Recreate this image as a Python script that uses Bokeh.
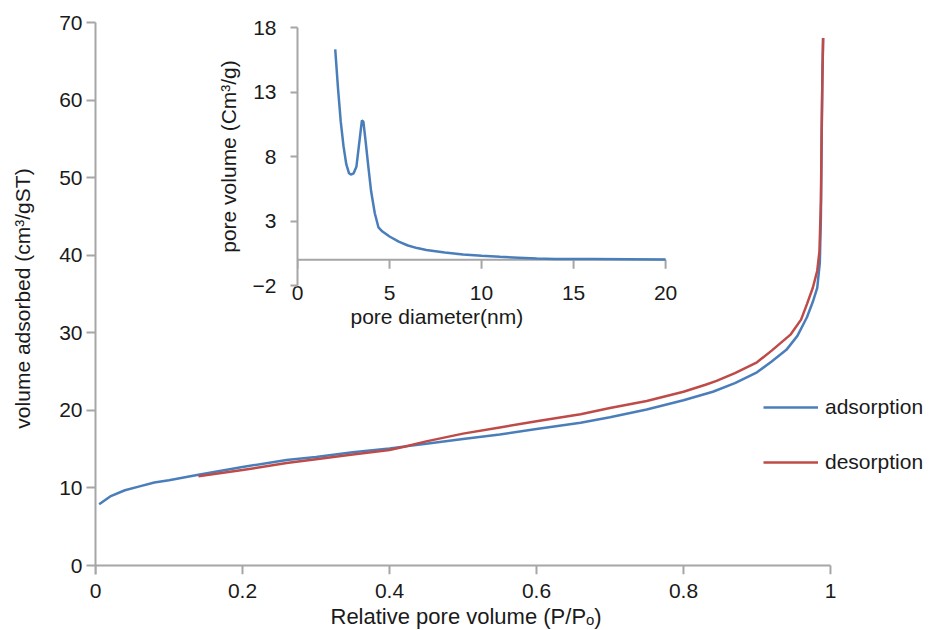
from bokeh.plotting import figure
from bokeh.models import Range1d, FixedTicker, NumeralTickFormatter, Legend, LegendItem, Title
from bokeh.layouts import column
from bokeh.embed import file_html
from bokeh.resources import INLINE

# ---- data: nitrogen isotherm (main chart) ----
ads_x = [0.005, 0.02, 0.04, 0.06, 0.08, 0.10, 0.14, 0.20, 0.26, 0.30, 0.35, 0.40, 0.45, 0.50,
         0.55, 0.60, 0.66, 0.70, 0.75, 0.80, 0.84, 0.87, 0.90, 0.92, 0.94, 0.955, 0.968, 0.976,
         0.982, 0.9855, 0.987, 0.988, 0.989, 0.990]
ads_y = [7.9, 8.9, 9.7, 10.2, 10.7, 11.0, 11.7, 12.7, 13.6, 14.0, 14.6, 15.1, 15.7, 16.3,
         16.9, 17.6, 18.4, 19.1, 20.1, 21.3, 22.4, 23.5, 24.9, 26.3, 27.8, 29.6, 32.0, 34.0,
         35.8, 39.0, 45.0, 55.0, 63.0, 68.0]
des_x = [0.14, 0.20, 0.26, 0.30, 0.35, 0.40, 0.42, 0.45, 0.50, 0.55, 0.60, 0.66, 0.70, 0.75,
         0.80, 0.83, 0.845, 0.87, 0.90, 0.92, 0.946, 0.96, 0.968, 0.976, 0.982, 0.985, 0.987,
         0.988, 0.989, 0.990]
des_y = [11.5, 12.3, 13.2, 13.7, 14.3, 14.9, 15.3, 16.0, 17.0, 17.8, 18.6, 19.5, 20.3, 21.2,
         22.4, 23.3, 23.8, 24.8, 26.2, 27.7, 29.8, 31.7, 33.7, 35.8, 38.0, 40.5, 47.0,
         56.0, 63.0, 68.0]

# ---- data: pore size distribution (inset) ----
psd_x = [2.05, 2.2, 2.35, 2.5, 2.65, 2.8, 2.9, 3.05, 3.2, 3.35, 3.5, 3.58, 3.7, 3.85, 4.0,
         4.2, 4.4, 4.6, 5.0, 5.5, 6.0, 6.5, 7.0, 8.0, 9.0, 10.0, 11.0, 12.0, 13.0, 14.0,
         16.0, 18.0, 20.0]
psd_y = [16.3, 13.3, 10.7, 8.8, 7.4, 6.7, 6.6, 6.7, 7.2, 9.0, 10.8, 10.7, 9.2, 7.2, 5.3,
         3.6, 2.5, 2.2, 1.8, 1.4, 1.1, 0.9, 0.75, 0.55, 0.4, 0.3, 0.22, 0.16, 0.10, 0.06,
         0.05, 0.04, 0.02]

main_x_ticks = [0, 0.2, 0.4, 0.6, 0.8, 1.0]
main_y_ticks = [0, 10, 20, 30, 40, 50, 60, 70]
inset_x_ticks = [0, 5, 10, 15, 20]
inset_y_ticks = [-2, 3, 8, 13, 18]
series_labels = ["adsorption", "desorption"]

FONT = "Liberation Sans"
AXIS = "#a6a6a6"
BLUE = "#4a7ebb"
RED = "#be4b48"
TXT = "#1a1a1a"
FS = "21px"


def style_axis(ax, fs=FS):
    ax.axis_line_color = AXIS
    ax.axis_line_width = 2
    ax.major_tick_line_color = AXIS
    ax.major_tick_line_width = 2
    ax.minor_tick_line_color = None
    ax.major_tick_in = 0
    ax.major_label_text_font = FONT
    ax.major_label_text_font_size = fs
    ax.major_label_text_color = TXT
    ax.axis_label_text_font = FONT
    ax.axis_label_text_font_size = fs
    ax.axis_label_text_font_style = "normal"
    ax.axis_label_text_color = TXT


def bare(fig):
    fig.outline_line_color = None
    fig.grid.grid_line_color = None
    fig.background_fill_alpha = 0
    fig.border_fill_alpha = 0


# ---- main figure ----
# The frame runs past x = 1 so that the legend (right of the curves) is not clipped;
# the x-axis line and its ticks are drawn from 0 to 1 only, crossing at y = 0.
TICK_Y = -1.16   # 9 px tick length below y = 0, in data units
p = figure(width=930, height=630, x_range=Range1d(0, 1.1361), y_range=Range1d(TICK_Y, 70),
           output_backend="svg", toolbar_location=None,
           min_border_left=95, min_border_right=0, min_border_top=22, min_border_bottom=56)
bare(p)
style_axis(p.xaxis[0])
style_axis(p.yaxis[0])
p.xaxis.ticker = FixedTicker(ticks=main_x_ticks)
p.xaxis.formatter = NumeralTickFormatter(format="0.[0]")
p.xaxis.axis_line_color = None
p.xaxis.major_tick_line_color = None
p.xaxis.major_label_standoff = 3
p.yaxis.ticker = FixedTicker(ticks=main_y_ticks)
p.yaxis.major_tick_out = 9
p.yaxis.major_label_standoff = 4
p.yaxis.axis_label = "volume adsorbed (cm\u00b3/gST)"
p.yaxis.axis_label_standoff = 22

p.segment(x0=[main_x_ticks[0]], y0=[0], x1=[main_x_ticks[-1]], y1=[0],
          line_color=AXIS, line_width=2)
p.segment(x0=main_x_ticks, y0=[0] * len(main_x_ticks),
          x1=main_x_ticks, y1=[TICK_Y] * len(main_x_ticks),
          line_color=AXIS, line_width=2)
p.add_layout(Title(text="Relative pore volume (P/P\u2092)", align="left", offset=235, standoff=2,
                   text_font=FONT, text_font_size="22px", text_font_style="normal",
                   text_color=TXT), "below")

r_ads = p.line(ads_x, ads_y, line_color=BLUE, line_width=2.5)
r_des = p.line(des_x, des_y, line_color=RED, line_width=2.5)

legend = Legend(items=[LegendItem(label=series_labels[0], renderers=[r_ads]),
                       LegendItem(label=series_labels[1], renderers=[r_des])],
                location=(668, 100), orientation="vertical",
                glyph_width=55, glyph_height=20, label_height=20, spacing=31,
                padding=0, margin=0, label_standoff=7,
                label_text_font=FONT, label_text_font_size=FS, label_text_color=TXT,
                border_line_color=None, background_fill_alpha=0)
p.add_layout(legend)

# ---- inset figure (left/right borders match the main figure: column aligns them) ----
# frame extends a little past 20 so the last tick label is not pushed inward
ins = figure(width=478, height=331, x_range=Range1d(0, 20.81), y_range=Range1d(-2, 18),
             output_backend="svg", toolbar_location=None,
             min_border_left=95, min_border_right=0, min_border_top=17, min_border_bottom=56)
bare(ins)
style_axis(ins.xaxis[0])
style_axis(ins.yaxis[0])
ins.xaxis.ticker = FixedTicker(ticks=inset_x_ticks)
ins.xaxis.axis_line_color = None
ins.xaxis.major_tick_line_color = None
ins.xaxis.major_label_standoff = -6
ins.yaxis.ticker = FixedTicker(ticks=inset_y_ticks)
ins.yaxis.major_tick_out = 7
ins.yaxis.major_label_standoff = 14
ins.yaxis.major_label_overrides = {-2: "\u22122"}
ins.yaxis.axis_label = "pore volume (Cm\u00b3/g)"
ins.yaxis.axis_label_standoff = 10

ins.segment(x0=[inset_x_ticks[0]], y0=[0], x1=[inset_x_ticks[-1]], y1=[0],
            line_color=AXIS, line_width=2)
ins.segment(x0=inset_x_ticks, y0=[0] * len(inset_x_ticks),
            x1=inset_x_ticks, y1=[-0.7] * len(inset_x_ticks),
            line_color=AXIS, line_width=2)
ins.add_layout(Title(text="pore diameter(nm)", align="left", offset=53, standoff=0,
                     text_font=FONT, text_font_size=FS, text_font_style="normal",
                     text_color=TXT), "below")
ins.line(psd_x, psd_y, line_color=BLUE, line_width=2.5)

ins.margin = (10, 0, 0, 202)
p.margin = (-341, 0, 0, 0)
layout = column(ins, p)

open("out.html", "w").write(file_html(layout, INLINE))
